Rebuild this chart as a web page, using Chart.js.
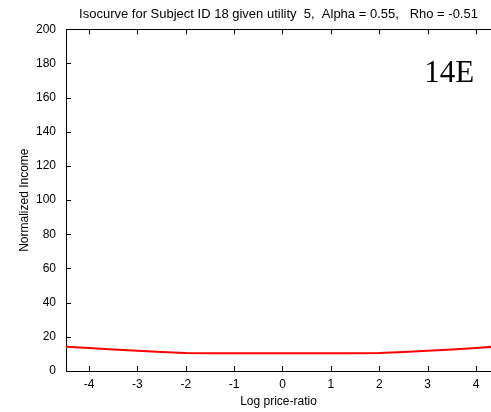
<!DOCTYPE html>
<html>
<head>
<meta charset="utf-8">
<script src="https://cdn.jsdelivr.net/npm/chart.js@4.4.1/dist/chart.umd.min.js"></script>
<style>
  html, body { margin: 0; padding: 0; background: #fff; }
  #wrap { width: 491px; height: 412px; }
</style>
</head>
<body>
<div id="wrap"><canvas id="c" width="491" height="412"></canvas></div>
<script>
// ---- data ----
const titleText = "Isocurve for Subject ID 18 given utility  5,  Alpha = 0.55,   Rho = -0.51";
const xAxisLabel = "Log price-ratio";
const yAxisLabel = "Normalized Income";
const panelLabel = "14E";
const logPriceRatio = [-4.5, -4, -3.5, -3, -2.5, -2, -1.5, -1, -0.5, 0, 0.5, 1, 1.5, 2, 2.5, 3, 3.5, 4, 4.5];
const normIncome    = [14.3, 13.5, 12.6, 11.8, 11.1, 10.5, 10.4, 10.4, 10.4, 10.4, 10.4, 10.4, 10.4, 10.5, 11.1, 11.8, 12.6, 13.5, 14.5];
const xTicks = [-4, -3, -2, -1, 0, 1, 2, 3, 4];
const yTicks = [0, 20, 40, 60, 80, 100, 120, 140, 160, 180, 200];
const xRange = [-4.475, 4.31];
const yRange = [0, 200];
const panelLabelPos = { x: 2.93, y: 169 };

const FONT = "'Liberation Sans', Arial, sans-serif";

const boxPlugin = {
  id: 'matlabBox',
  afterDraw(chart) {
    const { ctx, chartArea: a, scales } = chart;
    ctx.save();
    ctx.strokeStyle = '#000';
    ctx.lineWidth = 1;
    // top border
    ctx.beginPath();
    ctx.moveTo(a.left, Math.round(a.top) + 0.5);
    ctx.lineTo(a.right, Math.round(a.top) + 0.5);
    ctx.stroke();
    // inward ticks
    const L = 5;
    ctx.beginPath();
    xTicks.forEach(v => {
      const px = Math.round(scales.x.getPixelForValue(v)) + 0.5;
      ctx.moveTo(px, a.bottom); ctx.lineTo(px, a.bottom - L);
      ctx.moveTo(px, a.top); ctx.lineTo(px, a.top + L);
    });
    yTicks.forEach(v => {
      const py = Math.round(scales.y.getPixelForValue(v)) + 0.5;
      ctx.moveTo(a.left, py); ctx.lineTo(a.left + L, py);
    });
    ctx.stroke();
    // panel label
    ctx.fillStyle = '#000';
    ctx.font = "31px 'Liberation Serif', 'Times New Roman', serif";
    ctx.textAlign = 'left';
    ctx.textBaseline = 'alphabetic';
    ctx.fillText(panelLabel, scales.x.getPixelForValue(panelLabelPos.x), scales.y.getPixelForValue(panelLabelPos.y));
    ctx.restore();
  }
};

new Chart(document.getElementById('c'), {
  type: 'line',
  data: {
    datasets: [{
      data: logPriceRatio.map((x, i) => ({ x, y: normIncome[i] })),
      borderColor: '#ff0000',
      borderWidth: 2,
      pointRadius: 0,
      tension: 0,
      fill: false
    }]
  },
  options: {
    responsive: false,
    animation: false,
    devicePixelRatio: 1,
    layout: { padding: 0 },
    plugins: {
      legend: { display: false },
      tooltip: { enabled: false },
      title: {
        display: true,
        text: titleText,
        fullSize: false,
        color: '#000',
        font: { family: FONT, size: 13, weight: 'normal', lineHeight: 1.1 },
        padding: { top: 7, bottom: 8 }
      }
    },
    scales: {
      x: {
        type: 'linear',
        min: xRange[0],
        max: xRange[1],
        afterBuildTicks: s => { s.ticks = xTicks.map(v => ({ value: v })); },
        afterFit: s => { s.height = 41; },
        grid: { display: false, drawTicks: false },
        border: { display: true, color: '#000', width: 1 },
        ticks: { color: '#000', font: { family: FONT, size: 12 }, padding: 6, maxRotation: 0 },
        title: { display: true, text: xAxisLabel, color: '#000', font: { family: FONT, size: 12 }, padding: 3 }
      },
      y: {
        type: 'linear',
        min: yRange[0],
        max: yRange[1],
        afterBuildTicks: s => { s.ticks = yTicks.map(v => ({ value: v })); },
        afterFit: s => { s.width = 66; },
        grid: { display: false, drawTicks: false },
        border: { display: true, color: '#000', width: 1 },
        ticks: { color: '#000', font: { family: FONT, size: 12 }, padding: 10 },
        title: { display: true, text: yAxisLabel, color: '#000', font: { family: FONT, size: 12 }, padding: 17 }
      }
    }
  },
  plugins: [boxPlugin]
});
</script>
</body>
</html>
